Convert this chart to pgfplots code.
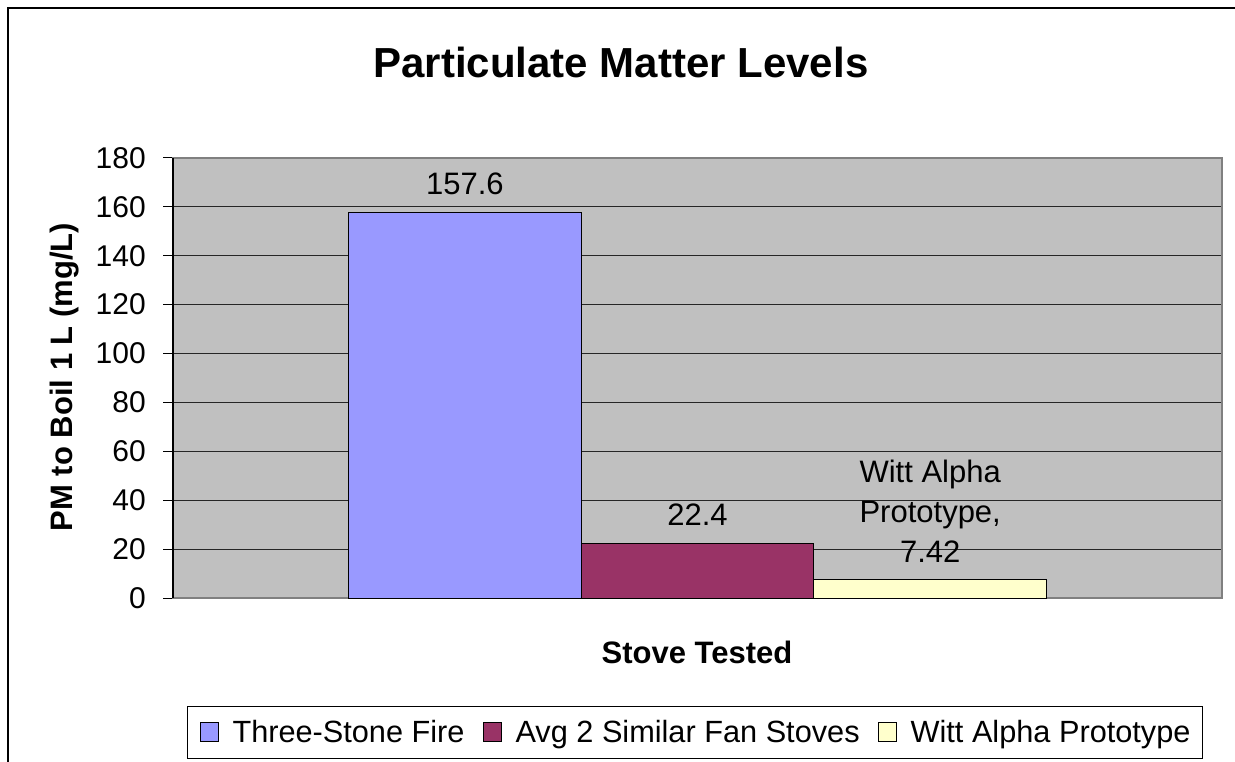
\documentclass[border=0pt]{standalone}
\usepackage{fontspec}
\setmainfont{Liberation Sans}
\usepackage{pgfplots}
\pgfplotsset{compat=1.18}
\definecolor{plotgray}{HTML}{C0C0C0}
\definecolor{axgray}{HTML}{808080}
\definecolor{bara}{HTML}{9999FF}
\definecolor{barb}{HTML}{993366}
\definecolor{barc}{HTML}{FFFFCC}
\pgfplotsset{sqlegend/.style={legend image code/.code={\draw[##1, draw=black, line width=1pt] (0pt,-9.5pt) rectangle (18pt,9.5pt);}}}
\begin{document}
\begin{tikzpicture}
\useasboundingbox (0pt,0pt) rectangle (1235pt,761pt);
\fill[white] (0pt,0pt) rectangle (1235pt,761pt);
\draw[black, line width=1.2pt] (8pt,-10pt) -- (8pt,753pt) -- (1245pt,753pt);
\node[anchor=base, font=\fontsize{42pt}{50pt}\selectfont\bfseries] at (621pt,683pt) {Particulate Matter Levels};
\begin{axis}[
  at={(173pt,163pt)}, anchor=south west,
  scale only axis, width=1049pt, height=440pt,
  xmin=-0.5, xmax=0.5, ymin=0, ymax=180,
  ytick={0,20,...,180}, xtick=\empty,
  ytick pos=left, tick align=outside, major tick length=10pt,
  ymajorgrids, grid style={black!85, line width=0.8pt},
  axis background/.style={fill=plotgray},
  axis line style={draw=axgray, line width=1.5pt},
  every tick/.style={black, line width=1pt},
  /pgf/number format/assume math mode=true,
  yticklabel style={font=\fontsize{30pt}{36pt}\selectfont, inner sep=0pt, xshift=-17pt},
  clip=false,
  nodes near coords,
  every node near coord/.append style={font=\fontsize{31pt}{40pt}\selectfont, anchor=south, inner sep=0pt, yshift=17pt, align=center, black},
  legend columns=3,
  legend style={at={(0.01335,-0.2455)}, anchor=north west, draw=black, line width=1pt, fill=white,
    inner xsep=12pt, inner ysep=14pt, font=\fontsize{30.7pt}{37pt}\selectfont,
    nodes={inner sep=0pt}, column sep=14pt,
    /tikz/every even column/.append style={column sep=18pt}},
]
\addplot[ybar, bar shift=0pt, bar width=0.2218, fill=bara, draw=black, line width=1pt, sqlegend] coordinates {(-0.2218,157.6)};
\addlegendentry{Three-Stone Fire}
\addplot[ybar, bar shift=0pt, bar width=0.2218, fill=barb, draw=black, line width=1pt, sqlegend] coordinates {(0,22.4)};
\addlegendentry{Avg 2 Similar Fan Stoves}
\addplot[ybar, bar shift=0pt, bar width=0.2218, fill=barc, draw=black, line width=1pt, sqlegend,
  nodes near coords={Witt Alpha\\Prototype,\\7.42}] coordinates {(0.2218,7.42)};
\addlegendentry{Witt Alpha Prototype}
\draw[black, line width=1.5pt] (rel axis cs:0,0) -- (rel axis cs:0,1);
\end{axis}
\node[anchor=base, font=\fontsize{31pt}{37pt}\selectfont\bfseries] at (697pt,97pt) {Stove Tested};
\node[anchor=base, rotate=90, font=\fontsize{31pt}{37pt}\selectfont\bfseries] at (72pt,384pt) {PM to Boil 1 L (mg/L)};
\end{tikzpicture}
\end{document}
